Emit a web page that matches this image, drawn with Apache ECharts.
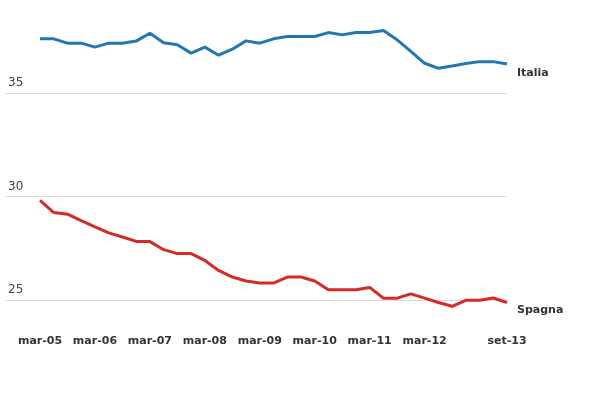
<!DOCTYPE html>
<html>
<head>
  <meta charset="utf-8" />
  <title>Italia e Spagna</title>
  <script src="https://cdn.jsdelivr.net/npm/echarts@6/dist/echarts.min.js"></script>
  <style>
    html, body { margin: 0; padding: 0; background: #fff; }
  </style>
</head>
<body>
<div id="main" style="width: 600px;height:400px;"></div>
<script type="text/javascript">
  // trimestrali, da mar-05 a set-13 (35 punti)
  var italia = [37.61, 37.61, 37.40, 37.40, 37.21, 37.40, 37.40, 37.50, 37.88, 37.42,
                37.32, 36.92, 37.21, 36.82, 37.11, 37.51, 37.40, 37.61, 37.72, 37.72,
                37.72, 37.91, 37.80, 37.91, 37.91, 38.01, 37.56, 37.00, 36.43, 36.19,
                36.30, 36.42, 36.51, 36.51, 36.40];
  var spagna = [29.82, 29.23, 29.15, 28.84, 28.54, 28.25, 28.05, 27.84, 27.83, 27.44,
                27.25, 27.25, 26.92, 26.44, 26.12, 25.93, 25.83, 25.83, 26.12, 26.12,
                25.93, 25.51, 25.51, 25.51, 25.62, 25.10, 25.10, 25.31, 25.10, 24.89,
                24.71, 25.00, 25.00, 25.11, 24.89];
  var tickLabels = ['mar-05', 'mar-06', 'mar-07', 'mar-08', 'mar-09', 'mar-10', 'mar-11', 'mar-12', 'set-13'];
  var tickIndex = [0, 4, 8, 12, 16, 20, 24, 28, 34];
  var yTicks = [25, 30, 35];

  function toPairs(arr) {
    return arr.map(function (v, i) { return [i, v]; });
  }

  var myChart = echarts.init(document.getElementById('main'));
  var option = {
    animation: false,
    textStyle: { fontFamily: 'DejaVu Sans' },
    grid: { left: 5, right: 93, top: 10, bottom: 79, containLabel: false },
    xAxis: {
      type: 'value',
      min: -2.55,
      max: 34,
      axisLine: { show: false },
      axisTick: { show: false },
      splitLine: { show: false },
      axisLabel: {
        customValues: tickIndex,
        margin: 15,
        fontSize: 11,
        fontWeight: 'bold',
        color: '#333',
        formatter: function (v) {
          var k = tickIndex.indexOf(Math.round(v));
          return k >= 0 ? tickLabels[k] : '';
        }
      }
    },
    yAxis: {
      type: 'value',
      min: 24,
      max: 39,
      axisLine: { show: false },
      axisTick: { show: false, customValues: yTicks },
      axisLabel: {
        customValues: yTicks,
        inside: true,
        margin: 3,
        verticalAlign: 'bottom',
        padding: [0, 0, 4, 0],
        fontSize: 12,
        color: '#444'
      },
      splitLine: { show: true, lineStyle: { color: '#dcdcdc', width: 1 } }
    },
    series: [{
      name: 'Italia',
      type: 'line',
      data: toPairs(italia),
      symbol: 'none',
      lineStyle: { color: '#2077b4', width: 3 },
      itemStyle: { color: '#2077b4' },
      endLabel: {
        show: true,
        formatter: '{a}',
        distance: 10,
        offset: [0, 9],
        fontSize: 11,
        fontWeight: 'bold',
        color: '#333'
      }
    }, {
      name: 'Spagna',
      type: 'line',
      data: toPairs(spagna),
      symbol: 'none',
      lineStyle: { color: '#d62a28', width: 3 },
      itemStyle: { color: '#d62a28' },
      endLabel: {
        show: true,
        formatter: '{a}',
        distance: 10,
        offset: [0, 8],
        fontSize: 11,
        fontWeight: 'bold',
        color: '#333'
      }
    }]
  };
  myChart.setOption(option);
</script>
</body>
</html>
